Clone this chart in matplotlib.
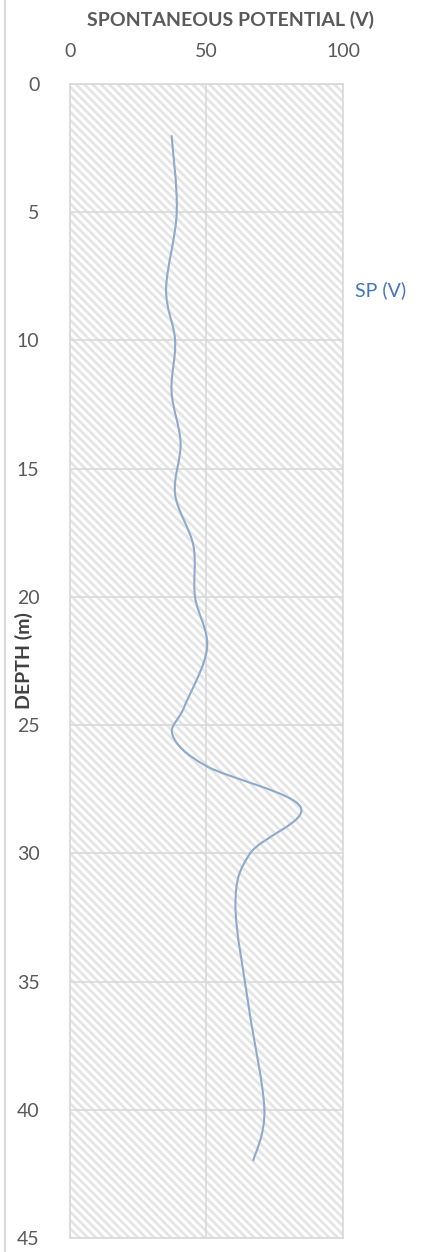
import matplotlib.pyplot as plt
import numpy as np
from matplotlib.path import Path
from matplotlib.patches import PathPatch, Rectangle
from matplotlib.lines import Line2D

plt.rcParams['font.family'] = ['Lato', 'DejaVu Sans']

depth = [2, 5, 8, 10, 12, 14, 16, 18, 20, 22, 24.3, 25.4, 26.6, 28.2, 30, 32, 36, 40, 42]
sp = [37.2, 39.1, 35.2, 38.5, 37.2, 40.5, 38.5, 45.2, 45.8, 50.2, 41.8, 37.6, 50, 84.5, 66, 60.6, 65.5, 71.2, 67.1]
xticks = [0, 50, 100]
yticks = [0, 5, 10, 15, 20, 25, 30, 35, 40, 45]

grey = '#d9d9d9'
txt = '#595959'

fig = plt.figure(figsize=(4.22, 12.52), dpi=100)
ax = fig.add_axes([70/422, 1-1238/1252, 273/422, 1154/1252])

plt.rcParams['hatch.linewidth'] = 1.9
plt.rcParams['hatch.color'] = '#e4e4e4'
ax.add_patch(Rectangle((0, 0), 1, 1, transform=ax.transAxes, facecolor='white',
                       edgecolor='#e4e4e4', hatch='\\\\\\\\', linewidth=0, zorder=0))

# smoothed line like excel (bezier through the points)
pts = np.column_stack([sp, depth])
ext = np.vstack([pts[0], pts, pts[-1]])
verts = [pts[0]]
codes = [Path.MOVETO]
for i in range(1, len(ext) - 2):
    p0, p1, p2, p3 = ext[i-1], ext[i], ext[i+1], ext[i+2]
    verts += [p1 + (p2 - p0) / 6, p2 - (p3 - p1) / 6, p2]
    codes += [Path.CURVE4] * 3
ax.add_patch(PathPatch(Path(verts, codes), fill=False, edgecolor='#8DA9CC', linewidth=1.5, zorder=3))

ax.set_xlim(0, 100)
ax.set_ylim(45, 0)
ax.set_xticks(xticks)
ax.set_yticks(yticks)
ax.xaxis.tick_top()
ax.tick_params(axis='both', length=0, labelsize=14, labelcolor=txt)
ax.tick_params(axis='x', pad=17)
ax.tick_params(axis='y', pad=22)
ax.grid(True, color=grey, linewidth=1.2)
ax.set_axisbelow(False)
for s in ax.spines.values():
    s.set_color(grey)
    s.set_linewidth(1.2)

fig.text(230.5/422, 1-20/1252, 'SPONTANEOUS POTENTIAL (V)', ha='center', va='center',
         fontsize=14, fontweight='bold', color=txt)
fig.text(24/422, 1-661/1252, 'DEPTH (m)', rotation=90, ha='center', va='center',
         fontsize=14, fontweight='bold', color='#404040')
fig.text(355/422, 1-290/1252, 'SP (V)', ha='left', va='center', fontsize=14, color='#4472C4')
fig.add_artist(Line2D([4.5/422, 4.5/422], [0, 1], color=grey, linewidth=1.5))

fig.savefig('out.png', dpi=100)
